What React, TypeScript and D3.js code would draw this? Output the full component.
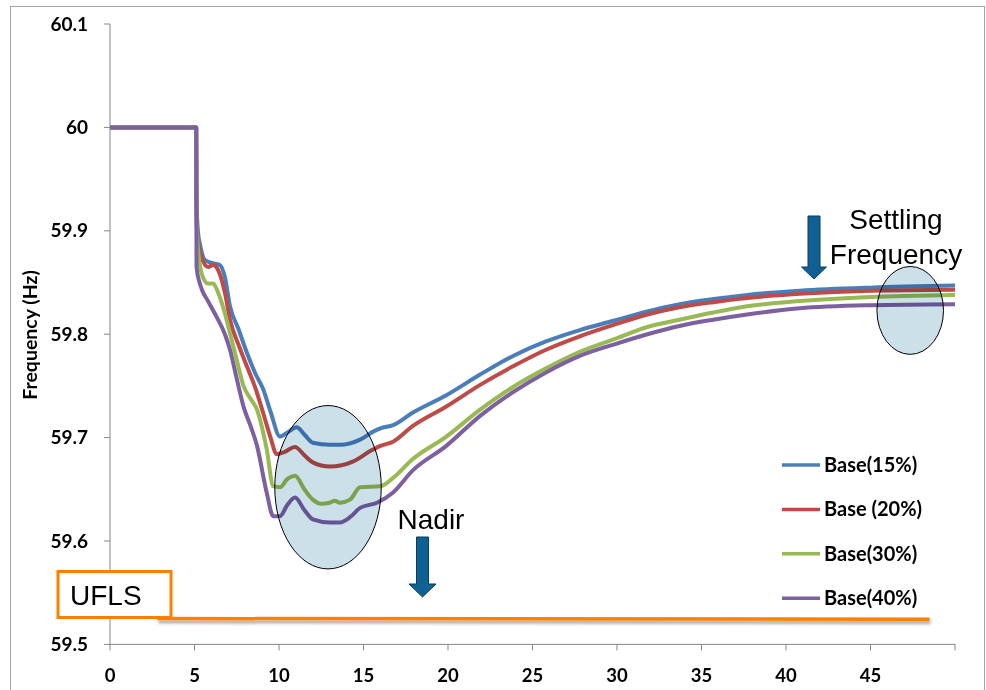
import React from "react";
import { scaleLinear, line, curveMonotoneX } from "d3";

// time (s) and frequency (Hz)
const seriesNames = ["Base(15%)", "Base (20%)", "Base(30%)", "Base(40%)"];
const seriesColors = ["#4A7EBB", "#BE4B48", "#98B954", "#7D60A0"];

const base15: [number, number][] = [
  [0, 60], [5.1, 60], [5.12, 59.93], [5.2, 59.9], [5.35, 59.885], [5.6, 59.872], [6.0, 59.869],
  [6.5, 59.867], [6.8, 59.855], [7.1, 59.827], [7.6, 59.805], [8.1, 59.782], [8.6, 59.762],
  [9.06, 59.747], [9.5, 59.725], [10.06, 59.701], [10.5, 59.705], [11.05, 59.71], [11.5, 59.703],
  [12.0, 59.695], [13.0, 59.693], [13.6, 59.693], [14.8, 59.698], [15.6, 59.706], [16.0, 59.709],
  [16.75, 59.712], [17.9, 59.724], [19.9, 59.741], [21.9, 59.761], [23.85, 59.779], [25.8, 59.793],
  [27.8, 59.804], [29.8, 59.813], [31.8, 59.822], [33.7, 59.829], [35.7, 59.834], [37.7, 59.838],
  [40.8, 59.842], [45, 59.845], [50, 59.847],
];
const base20: [number, number][] = [
  [0, 60], [5.1, 60], [5.12, 59.92], [5.2, 59.89], [5.4, 59.875], [5.8, 59.865], [6.1, 59.867],
  [6.4, 59.862], [6.8, 59.84], [7.1, 59.814], [7.6, 59.79], [8.1, 59.769], [8.6, 59.748],
  [9.06, 59.724], [9.5, 59.7], [9.86, 59.684], [10.3, 59.686], [10.95, 59.691], [11.5, 59.683],
  [12.0, 59.676], [13.0, 59.672], [14.4, 59.677], [15.4, 59.687], [16.0, 59.692], [16.75, 59.696],
  [17.9, 59.711], [19.9, 59.73], [21.9, 59.751], [23.85, 59.769], [25.8, 59.785], [27.8, 59.798],
  [29.8, 59.809], [31.8, 59.819], [33.7, 59.826], [35.7, 59.831], [37.7, 59.835], [40.8, 59.839],
  [45, 59.842], [50, 59.843],
];
const base30: [number, number][] = [
  [0, 60], [5.1, 60], [5.12, 59.91], [5.25, 59.875], [5.5, 59.855], [5.8, 59.849], [6.1, 59.849],
  [6.4, 59.84], [6.8, 59.82], [7.1, 59.801], [7.5, 59.775], [7.9, 59.75], [8.3, 59.738],
  [8.7, 59.727], [9.27, 59.689], [9.66, 59.653], [10.06, 59.652], [10.5, 59.66], [10.95, 59.663],
  [11.5, 59.65], [12.0, 59.64], [12.5, 59.636], [13.0, 59.637], [13.3, 59.639], [13.6, 59.637],
  [14.2, 59.64], [14.8, 59.652], [16.0, 59.653], [16.75, 59.661], [17.9, 59.679], [19.9, 59.701],
  [21.9, 59.727], [23.85, 59.749], [25.8, 59.767], [27.8, 59.783], [29.8, 59.795], [31.8, 59.807],
  [33.7, 59.814], [35.7, 59.821], [37.7, 59.827], [40.8, 59.832], [45, 59.836], [50, 59.838],
];
const base40: [number, number][] = [
  [0, 60], [5.1, 60], [5.12, 59.865], [5.3, 59.85], [5.44, 59.843], [5.8, 59.832], [6.3, 59.817],
  [6.8, 59.8], [7.1, 59.785], [7.5, 59.757], [7.9, 59.73], [8.3, 59.712], [8.7, 59.692],
  [9.27, 59.647], [9.66, 59.624], [10.06, 59.624], [10.5, 59.635], [10.95, 59.642], [11.5, 59.63],
  [12.0, 59.621], [13.0, 59.618], [13.6, 59.618], [14.2, 59.623], [14.8, 59.632], [15.8, 59.637],
  [16.75, 59.647], [17.9, 59.668], [19.9, 59.692], [21.9, 59.721], [23.85, 59.744], [25.8, 59.763],
  [27.8, 59.779], [29.8, 59.79], [31.8, 59.8], [33.7, 59.808], [35.7, 59.814], [37.7, 59.819],
  [40.8, 59.825], [45, 59.828], [50, 59.829],
];
const allSeries = [base15, base20, base30, base40];

const xTicks = [0, 5, 10, 15, 20, 25, 30, 35, 40, 45, 50];
const xTickLabels = ["0", "5", "10", "15", "20", "25", "30", "35", "40", "45", ""];
const yTicks = [59.5, 59.6, 59.7, 59.8, 59.9, 60, 60.1];
const yTickLabels = ["59.5", "59.6", "59.7", "59.8", "59.9", "60", "60.1"];

// annotations (data units)
const uflsLevel = 59.525;
const uflsRange = [2.8, 48.5];
const nadirEllipse = { t: 12.9, f: 59.652, rt: 3.15, rf: 0.079 };
const settleEllipse = { t: 47.35, f: 59.823, rt: 1.97, rf: 0.0425 };

const W = 986;
const H = 690;
const x = scaleLinear().domain([0, 50]).range([110, 955]);
const y = scaleLinear().domain([59.5, 60.1]).range([644.4, 24]);

const tickFont = "Lato, 'Open Sans', sans-serif";
const calloutFont = "'Liberation Sans', Arial, sans-serif";

function DownArrow({ cx, top, tip, shaft, head, headStart }: any) {
  const d = `M${cx - shaft / 2},${top} L${cx + shaft / 2},${top} L${cx + shaft / 2},${headStart} ` +
    `L${cx + head / 2},${headStart} L${cx},${tip} L${cx - head / 2},${headStart} ` +
    `L${cx - shaft / 2},${headStart} Z`;
  return <path d={d} fill="#0F6193" stroke="#0A3D5E" strokeWidth={1} />;
}

export default function App() {
  const gen = line<[number, number]>()
    .x((d) => x(d[0]))
    .y((d) => y(d[1]))
    .curve(curveMonotoneX);

  const uy = y(uflsLevel);

  return (
    <svg width={W} height={H} style={{ position: "absolute", left: 0, top: 0, background: "#fff" }}>
      <defs>
        <filter id="shadow" filterUnits="userSpaceOnUse" x={100} y={uy - 20} width={900} height={40}>
          <feDropShadow dx="1" dy="3" stdDeviation="1.6" floodColor="#000" floodOpacity="0.35" />
        </filter>
      </defs>
      <rect x={10.5} y={6.5} width={974} height={700} fill="#fff" stroke="#A6A6A6" strokeWidth={1} />

      {/* axes */}
      <line x1={x(0)} x2={x(0)} y1={y(60.1)} y2={y(59.5)} stroke="#868686" strokeWidth={1} />
      <line x1={x(0)} x2={x(50)} y1={y(59.5)} y2={y(59.5)} stroke="#868686" strokeWidth={1} />
      {yTicks.map((v, i) => (
        <g key={"y" + v}>
          <line x1={x(0) - 6} x2={x(0)} y1={y(v)} y2={y(v)} stroke="#868686" />
          <text x={88} y={y(v)} dy="0.35em" textAnchor="end" fontFamily={tickFont}
            fontWeight="bold" fontSize={19} fill="#000">{yTickLabels[i]}</text>
        </g>
      ))}
      {xTicks.map((v, i) => (
        <g key={"x" + v}>
          <line x1={x(v)} x2={x(v)} y1={y(59.5)} y2={y(59.5) + 6} stroke="#868686" />
          <text x={x(v)} y={682} textAnchor="middle" fontFamily={tickFont}
            fontWeight="bold" fontSize={18.5} fill="#000">{xTickLabels[i]}</text>
        </g>
      ))}
      <text transform="translate(37,335) rotate(-90)" textAnchor="middle" fontFamily={tickFont}
        fontWeight="bold" fontSize={19.5} fill="#000">Frequency (Hz)</text>

      {/* series */}
      {allSeries.map((s, i) => (
        <path key={seriesNames[i]} d={gen(s) || ""} fill="none" stroke={seriesColors[i]}
          strokeWidth={4} strokeLinejoin="round" />
      ))}

      {/* highlight ellipses */}
      {[nadirEllipse, settleEllipse].map((e, i) => (
        <ellipse key={"e" + i} cx={x(e.t)} cy={y(e.f)} rx={x(e.rt) - x(0)} ry={y(59.5) - y(59.5 + e.rf)}
          fill="#CCE0EA" stroke="#000" strokeWidth={1} style={{ mixBlendMode: "multiply" }} />
      ))}

      {/* UFLS */}
      <line x1={x(uflsRange[0])} x2={x(uflsRange[1])} y1={uy} y2={uy + 0.6}
        stroke="#FF8000" strokeWidth={3.5} filter="url(#shadow)" />
      <rect x={58} y={571.5} width={113} height={46} fill="#fff" stroke="#FF8000" strokeWidth={3} />
      <text x={70} y={605} fontFamily={calloutFont} fontSize={28} fill="#000">UFLS</text>

      {/* callouts */}
      <text x={431} y={529} textAnchor="middle" fontFamily={calloutFont} fontSize={28} fill="#000">Nadir</text>
      <DownArrow cx={422.5} top={537} tip={597} shaft={12} head={27} headStart={584} />
      <text x={896} y={229} textAnchor="middle" fontFamily={calloutFont} fontSize={28} fill="#000">Settling</text>
      <text x={896} y={264} textAnchor="middle" fontFamily={calloutFont} fontSize={28} fill="#000">Frequency</text>
      <DownArrow cx={814} top={216} tip={279} shaft={12} head={25} headStart={267} />

      {/* legend */}
      {seriesNames.map((n, i) => (
        <g key={"lg" + n} transform={`translate(782,${465 + i * 44.4})`}>
          <line x1={0} x2={38} y1={0} y2={0} stroke={seriesColors[i]} strokeWidth={3.5} />
          <text x={42} y={0} dy="0.35em" fontFamily={tickFont} fontWeight="bold" fontSize={20}
            fill="#000">{n}</text>
        </g>
      ))}
    </svg>
  );
}
